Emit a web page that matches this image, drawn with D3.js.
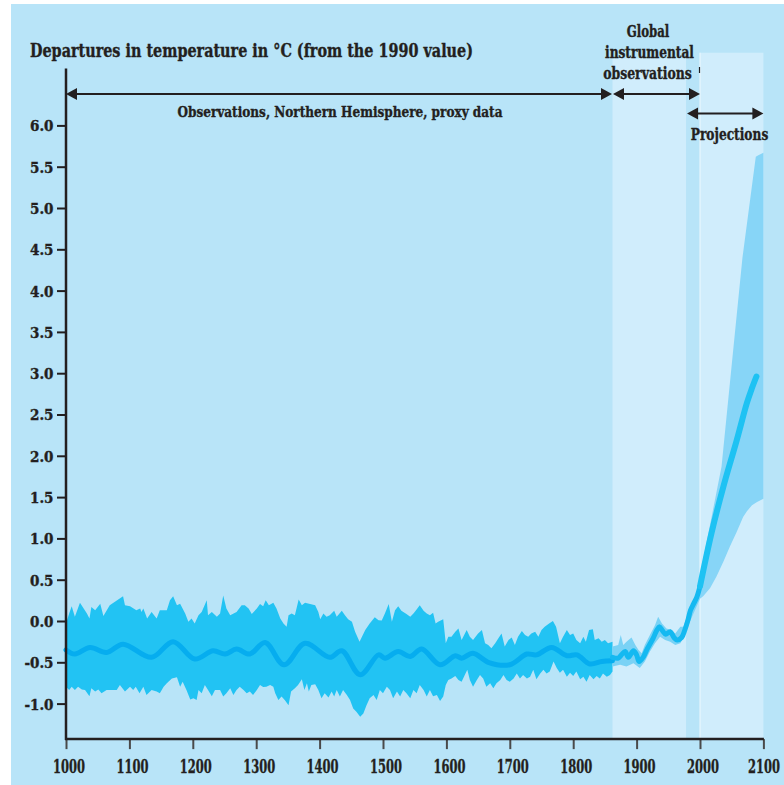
<!DOCTYPE html>
<html>
<head>
<meta charset="utf-8">
<script src="https://cdn.jsdelivr.net/npm/d3@7"></script>
<style>
  html, body { margin: 0; padding: 0; background: #ffffff; }
  svg { display: block; }
  text { font-family: "DejaVu Serif Condensed", "DejaVu Serif", serif; font-weight: bold; font-stretch: condensed; fill: #231f20; stroke: #231f20; stroke-width: 0.35px; }
</style>
</head>
<body>
<svg id="chart" width="784" height="785"></svg>
<script>
// Temperature departures (°C, relative to 1990), pairs of [year, value]
const proxyMean = [
  [1000,-0.35],[1014,-0.40],[1038,-0.32],[1064,-0.38],[1090,-0.28],[1135,-0.44],[1169,-0.25],
  [1203,-0.46],[1232,-0.36],[1251,-0.40],[1269,-0.34],[1290,-0.40],[1314,-0.26],[1344,-0.53],
  [1377,-0.27],[1416,-0.44],[1435,-0.36],[1464,-0.65],[1493,-0.41],[1503,-0.45],[1524,-0.37],
  [1543,-0.43],[1561,-0.34],[1590,-0.53],[1614,-0.42],[1624,-0.45],[1642,-0.39],[1666,-0.50],
  [1700,-0.53],[1727,-0.40],[1742,-0.41],[1766,-0.32],[1790,-0.42],[1806,-0.41],[1826,-0.52],
  [1845,-0.49],[1862,-0.48]
];

const proxyUpper = [
  [1000,-0.03],[1005,0.09],[1009,0.18],[1014,0.05],[1022,0.22],[1033,0.09],[1037,0.03],[1040,0.17],
  [1046,0.13],[1054,0.21],[1059,0.06],[1069,0.19],[1090,0.30],[1093,0.19],[1101,0.18],[1111,0.13],
  [1117,0.15],[1119,0.11],[1122,0.15],[1128,0.03],[1135,0.11],[1143,0.03],[1148,0.13],[1159,0.13],
  [1164,0.25],[1169,0.30],[1175,0.19],[1180,0.21],[1188,0.09],[1193,-0.01],[1198,0.03],[1203,-0.03],
  [1209,0.07],[1214,0.11],[1222,0.25],[1224,0.07],[1230,0.11],[1238,0.05],[1243,0.09],[1248,0.31],
  [1253,0.15],[1259,0.07],[1269,0.11],[1277,0.19],[1282,0.19],[1288,0.15],[1293,0.085],[1301,0.15],
  [1306,0.205],[1311,0.18],[1315,0.25],[1320,0.19],[1327,0.22],[1332,0.15],[1338,0.03],[1343,-0.03],
  [1348,-0.07],[1351,0.07],[1356,0.09],[1361,0.07],[1367,0.26],[1372,0.19],[1377,0.22],[1385,0.205],
  [1393,0.19],[1398,0.11],[1401,0.02],[1406,0.09],[1411,0.05],[1416,0.07],[1423,0.125],[1427,0.05],
  [1435,0.125],[1440,0.07],[1445,0.02],[1451,-0.01],[1456,-0.13],[1463,-0.25],[1472,-0.11],[1479,-0.03],
  [1487,0.045],[1493,0.01],[1498,0.005],[1503,0.09],[1509,0.205],[1514,-0.01],[1519,0.13],[1524,0.18],
  [1529,0.125],[1537,0.085],[1543,0.05],[1548,0.09],[1553,0.14],[1558,0.19],[1564,0.125],[1569,0.09],
  [1574,0.07],[1579,0.10],[1583,-0.03],[1587,-0.01],[1595,0.02],[1599,-0.27],[1603,-0.19],[1608,-0.19],
  [1614,-0.13],[1619,-0.09],[1624,-0.23],[1632,-0.11],[1637,-0.19],[1642,-0.23],[1650,-0.15],[1656,-0.11],
  [1661,-0.27],[1666,-0.29],[1671,-0.33],[1677,-0.27],[1682,-0.21],[1687,-0.15],[1692,-0.31],[1698,-0.23],
  [1703,-0.20],[1708,-0.29],[1713,-0.19],[1719,-0.12],[1724,-0.17],[1729,-0.19],[1734,-0.15],[1740,-0.13],
  [1745,-0.19],[1750,-0.11],[1755,-0.07],[1762,-0.03],[1768,0.00],[1773,-0.07],[1779,-0.27],[1784,-0.19],
  [1790,-0.11],[1795,-0.17],[1800,-0.15],[1805,-0.23],[1811,-0.27],[1816,-0.19],[1820,-0.25],[1825,-0.11],
  [1831,-0.10],[1834,-0.23],[1840,-0.21],[1845,-0.25],[1850,-0.23],[1855,-0.27],[1862,-0.25]
];

const proxyLower = [
  [1000,-0.795],[1005,-0.835],[1009,-0.795],[1014,-0.835],[1019,-0.795],[1025,-0.83],[1030,-0.835],
  [1037,-0.91],[1040,-0.815],[1046,-0.855],[1051,-0.83],[1056,-0.875],[1064,-0.835],[1072,-0.835],
  [1080,-0.835],[1085,-0.775],[1093,-0.855],[1101,-0.795],[1106,-0.835],[1110,-0.795],[1116,-0.875],
  [1122,-0.795],[1127,-0.895],[1135,-0.835],[1143,-0.855],[1148,-0.875],[1154,-0.795],[1159,-0.755],
  [1167,-0.695],[1175,-0.68],[1180,-0.795],[1184,-0.735],[1190,-0.835],[1196,-0.95],[1201,-0.935],
  [1206,-0.955],[1209,-0.835],[1214,-0.875],[1219,-0.775],[1224,-0.835],[1230,-0.91],[1235,-0.835],
  [1243,-0.835],[1248,-0.915],[1253,-0.875],[1259,-0.815],[1264,-0.895],[1269,-0.835],[1274,-0.795],
  [1280,-0.835],[1285,-0.875],[1290,-0.855],[1295,-0.895],[1301,-0.835],[1306,-0.775],[1311,-0.80],
  [1316,-0.795],[1322,-0.775],[1327,-0.795],[1330,-0.875],[1335,-0.955],[1340,-0.915],[1345,-0.955],
  [1351,-1.02],[1355,-0.855],[1361,-0.815],[1366,-0.775],[1372,-0.705],[1376,-0.835],[1380,-0.755],
  [1383,-0.855],[1387,-0.775],[1393,-0.765],[1398,-0.835],[1403,-0.935],[1408,-0.875],[1414,-0.925],
  [1419,-0.855],[1423,-0.915],[1427,-0.835],[1432,-0.915],[1437,-0.835],[1443,-0.895],[1448,-0.955],
  [1453,-1.06],[1458,-1.10],[1464,-1.16],[1469,-1.12],[1474,-1.02],[1479,-0.935],[1485,-0.895],
  [1490,-0.955],[1495,-0.835],[1500,-0.875],[1506,-0.795],[1511,-0.835],[1516,-0.935],[1522,-0.855],
  [1527,-0.915],[1532,-0.835],[1537,-0.875],[1543,-0.935],[1548,-0.835],[1553,-0.875],[1558,-0.775],
  [1564,-0.835],[1569,-0.915],[1574,-0.835],[1579,-0.91],[1585,-0.895],[1590,-0.97],[1595,-0.915],
  [1599,-0.775],[1603,-0.715],[1608,-0.695],[1614,-0.665],[1619,-0.715],[1624,-0.735],[1629,-0.655],
  [1633,-0.59],[1637,-0.715],[1642,-0.795],[1648,-0.715],[1653,-0.655],[1658,-0.695],[1663,-0.795],
  [1669,-0.755],[1674,-0.815],[1679,-0.755],[1685,-0.715],[1690,-0.655],[1695,-0.715],[1700,-0.735],
  [1706,-0.695],[1711,-0.635],[1716,-0.695],[1721,-0.655],[1727,-0.695],[1732,-0.675],[1737,-0.59],
  [1742,-0.705],[1748,-0.635],[1753,-0.59],[1758,-0.635],[1763,-0.61],[1769,-0.49],[1774,-0.57],
  [1779,-0.625],[1784,-0.59],[1790,-0.675],[1795,-0.625],[1800,-0.665],[1805,-0.61],[1811,-0.705],
  [1816,-0.675],[1821,-0.735],[1826,-0.655],[1832,-0.705],[1837,-0.665],[1842,-0.695],[1847,-0.635],
  [1853,-0.675],[1858,-0.655],[1862,-0.61]
];

const instMean = [
  [1862,-0.44],[1871,-0.45],[1876,-0.41],[1882,-0.37],[1887,-0.44],[1895,-0.36],[1900,-0.41],
  [1904,-0.49],[1911,-0.43],[1916,-0.35],[1926,-0.21],[1932,-0.11],[1936,-0.07],[1941,-0.12],
  [1946,-0.16],[1953,-0.13],[1959,-0.20],[1964,-0.23],[1971,-0.20],[1976,-0.11],[1981,0.01],
  [1985,0.13],[1990,0.21],[1995,0.29],[2000,0.42]
];
const instUpper = [
  [1862,-0.31],[1871,-0.29],[1875,-0.17],[1879,-0.29],[1884,-0.25],[1892,-0.20],[1898,-0.29],
  [1903,-0.35],[1908,-0.39],[1913,-0.29],[1921,-0.17],[1929,-0.05],[1934,0.05],[1940,-0.03],
  [1947,-0.09],[1955,-0.11],[1961,-0.15],[1969,-0.07],[1974,-0.07],[1979,0.05],[1987,0.21],
  [1995,0.335],[2000,0.50]
];
const instLower = [
  [1862,-0.55],[1874,-0.53],[1884,-0.55],[1895,-0.51],[1905,-0.57],[1913,-0.49],[1921,-0.37],
  [1929,-0.27],[1937,-0.19],[1945,-0.23],[1953,-0.25],[1961,-0.29],[1969,-0.27],[1976,-0.17],
  [1984,-0.01],[1992,0.13],[2000,0.27]
];

const projMean = [
  [2000,0.42],[2018,1.06],[2037,1.63],[2058,2.19],[2074,2.64],[2082,2.82],[2089,2.96]
];
const projUpper = [
  [1997,0.42],[2000,0.55],[2034,1.87],[2050,3.10],[2067,4.40],[2088,5.62],[2092,5.64],[2100,5.67]
];
const projLower = [
  [1997,0.25],[2005,0.30],[2016,0.40],[2026,0.54],[2037,0.72],[2047,0.90],[2058,1.08],
  [2068,1.26],[2074,1.33],[2082,1.40],[2090,1.44],[2100,1.48]
];

// Axis ticks and labels
const xTicks = [1000,1100,1200,1300,1400,1500,1600,1700,1800,1900,2000,2100];
const yTicks = [-1.0,-0.5,0.0,0.5,1.0,1.5,2.0,2.5,3.0,3.5,4.0,4.5,5.0,5.5,6.0];
const yTickLabels = ["-1.0","-0.5","0.0","0.5","1.0","1.5","2.0","2.5","3.0","3.5","4.0","4.5","5.0","5.5","6.0"];

// Period boundaries (years)
const proxyEnd = 1862;
const instEnd = 1978;
const projStart = 2000;
const projEnd = 2100;

const svg = d3.select("#chart");

const x = d3.scaleLinear().domain([1000, 2100]).range([66, 763.4]);
const y = d3.scaleLinear().domain([-1, 6]).range([703.6, 125.4]);

const C = {
  bg: "#b8e4f8",
  light: "#d0edfc",
  proxyBand: "#22c3f3",
  proxyLine: "#06adef",
  instBand: "#7ad2f5",
  instLine: "#14b9f1",
  projBand: "#87d5f7",
  projLine: "#1ec2f3",
  ink: "#231f20"
};

// Page background
svg.append("rect").attr("x", 11).attr("y", 4).attr("width", 773).attr("height", 781).attr("fill", C.bg);

const axisBottom = y(-1.43);
const axisTop = y(6.69);

// Lighter backgrounds for the instrumental and projection periods
svg.append("rect")
  .attr("x", x(proxyEnd)).attr("y", y(6.81))
  .attr("width", x(instEnd) - x(proxyEnd)).attr("height", axisBottom - y(6.81))
  .attr("fill", C.light);
svg.append("rect")
  .attr("x", x(projStart)).attr("y", y(6.88))
  .attr("width", x(projEnd) - x(projStart)).attr("height", axisBottom - y(6.88))
  .attr("fill", C.light);
svg.append("line")
  .attr("x1", x(projStart)).attr("x2", x(projStart))
  .attr("y1", y(6.88)).attr("y2", axisBottom)
  .attr("stroke", "#eef9fe").attr("stroke-width", 1);

const pt = d => [x(d[0]), y(d[1])];
const bandPath = (upper, lower) =>
  d3.line().curve(d3.curveLinear)(upper.map(pt).concat(lower.slice().reverse().map(pt))) + "Z";

// Uncertainty bands
svg.append("path").attr("d", bandPath(proxyUpper, proxyLower)).attr("fill", C.proxyBand);
svg.append("path").attr("d", bandPath(instUpper, instLower)).attr("fill", C.instBand);
svg.append("path").attr("d", bandPath(projUpper, projLower)).attr("fill", C.projBand);

// Central estimates
const smooth = d3.line().x(d => x(d[0])).y(d => y(d[1])).curve(d3.curveCatmullRom.alpha(0.5));
svg.append("path").attr("d", smooth(proxyMean)).attr("fill", "none")
  .attr("stroke", C.proxyLine).attr("stroke-width", 5).attr("stroke-linecap", "round").attr("stroke-linejoin", "round");
svg.append("path").attr("d", smooth(instMean)).attr("fill", "none")
  .attr("stroke", C.instLine).attr("stroke-width", 5).attr("stroke-linecap", "round").attr("stroke-linejoin", "round");
svg.append("path").attr("d", smooth(projMean)).attr("fill", "none")
  .attr("stroke", C.projLine).attr("stroke-width", 6).attr("stroke-linecap", "round").attr("stroke-linejoin", "round");

// Axes
const gx = svg.append("g").attr("transform", `translate(0,${axisBottom})`)
  .call(d3.axisBottom(x).tickValues(xTicks).tickSize(10).tickSizeOuter(0).tickFormat(d3.format("d")));
gx.select(".domain").remove();
gx.selectAll(".tick line").attr("stroke", "#4a4a4a").attr("stroke-width", 2);
gx.selectAll(".tick text")
  .attr("y", 0).attr("dy", 0)
  .attr("font-size", 19)
  .style("font-family", "'DejaVu Serif Condensed','DejaVu Serif',serif")
  .style("font-weight", "bold").attr("fill", C.ink)
  .each(function (d, i) {
    // narrow the year labels to a fixed width
    const w = this.getComputedTextLength();
    const dx = i === xTicks.length - 1 ? 0 : 2.5;
    d3.select(this).attr("transform", `translate(${dx},33.5) scale(${32 / w},1)`);
  });

const gy = svg.append("g").attr("transform", `translate(${x(1000)},0)`)
  .call(d3.axisLeft(y).tickValues(yTicks).tickSize(9).tickSizeOuter(0)
    .tickFormat((d, i) => yTickLabels[i]));
gy.select(".domain").remove();
gy.selectAll(".tick line").attr("stroke", C.ink).attr("stroke-width", 2);
gy.selectAll(".tick text")
  .attr("x", -12.5).attr("dy", "0.36em")
  .attr("font-size", 15)
  .style("font-family", "'DejaVu Serif Condensed','DejaVu Serif',serif")
  .style("font-weight", "bold").attr("fill", C.ink);

svg.append("line").attr("x1", x(1000)).attr("x2", x(1000)).attr("y1", axisTop).attr("y2", axisBottom + 1)
  .attr("stroke", C.ink).attr("stroke-width", 2.5);
svg.append("line").attr("x1", x(1000) - 1).attr("x2", x(2100) + 0.5).attr("y1", axisBottom).attr("y2", axisBottom)
  .attr("stroke", C.ink).attr("stroke-width", 2.5);

// Period arrows
function arrow(x1, x2, yy) {
  const g = svg.append("g");
  g.append("line").attr("x1", x1 + 6).attr("x2", x2 - 6).attr("y1", yy).attr("y2", yy)
    .attr("stroke", C.ink).attr("stroke-width", 2);
  g.append("path").attr("d", `M${x1},${yy}L${x1 + 11},${yy - 6}L${x1 + 11},${yy + 6}Z`).attr("fill", C.ink);
  g.append("path").attr("d", `M${x2},${yy}L${x2 - 11},${yy - 6}L${x2 - 11},${yy + 6}Z`).attr("fill", C.ink);
}
arrow(x(1000), x(proxyEnd) - 0.5, 94);
arrow(x(proxyEnd) + 0.5, x(projStart), 94);
arrow(x(instEnd) + 1, x(projEnd), 113.5);

svg.append("line").attr("x1", x(projStart) - 0.5).attr("x2", x(projStart) - 0.5).attr("y1", 67).attr("y2", 73)
  .attr("stroke", C.ink).attr("stroke-width", 1.2);

// Titles and labels
function label(txt, cx, by, size, len, anchor) {
  return svg.append("text").text(txt)
    .attr("x", cx).attr("y", by)
    .attr("font-size", size)
    .attr("text-anchor", anchor || "middle")
    .attr("textLength", len).attr("lengthAdjust", "spacingAndGlyphs");
}
label("Departures in temperature in °C (from the 1990 value)", 30, 57, 18.5, 443, "start");
label("Observations, Northern Hemisphere, proxy data", 340, 117, 15.5, 325);
label("Global", 648, 37, 16.5, 42.6);
label("instrumental", 649.5, 58, 16.5, 89);
label("observations", 647.5, 79, 16.5, 88.7);
label("Projections", 729.5, 139.5, 16.5, 77.5);
</script>
</body>
</html>
